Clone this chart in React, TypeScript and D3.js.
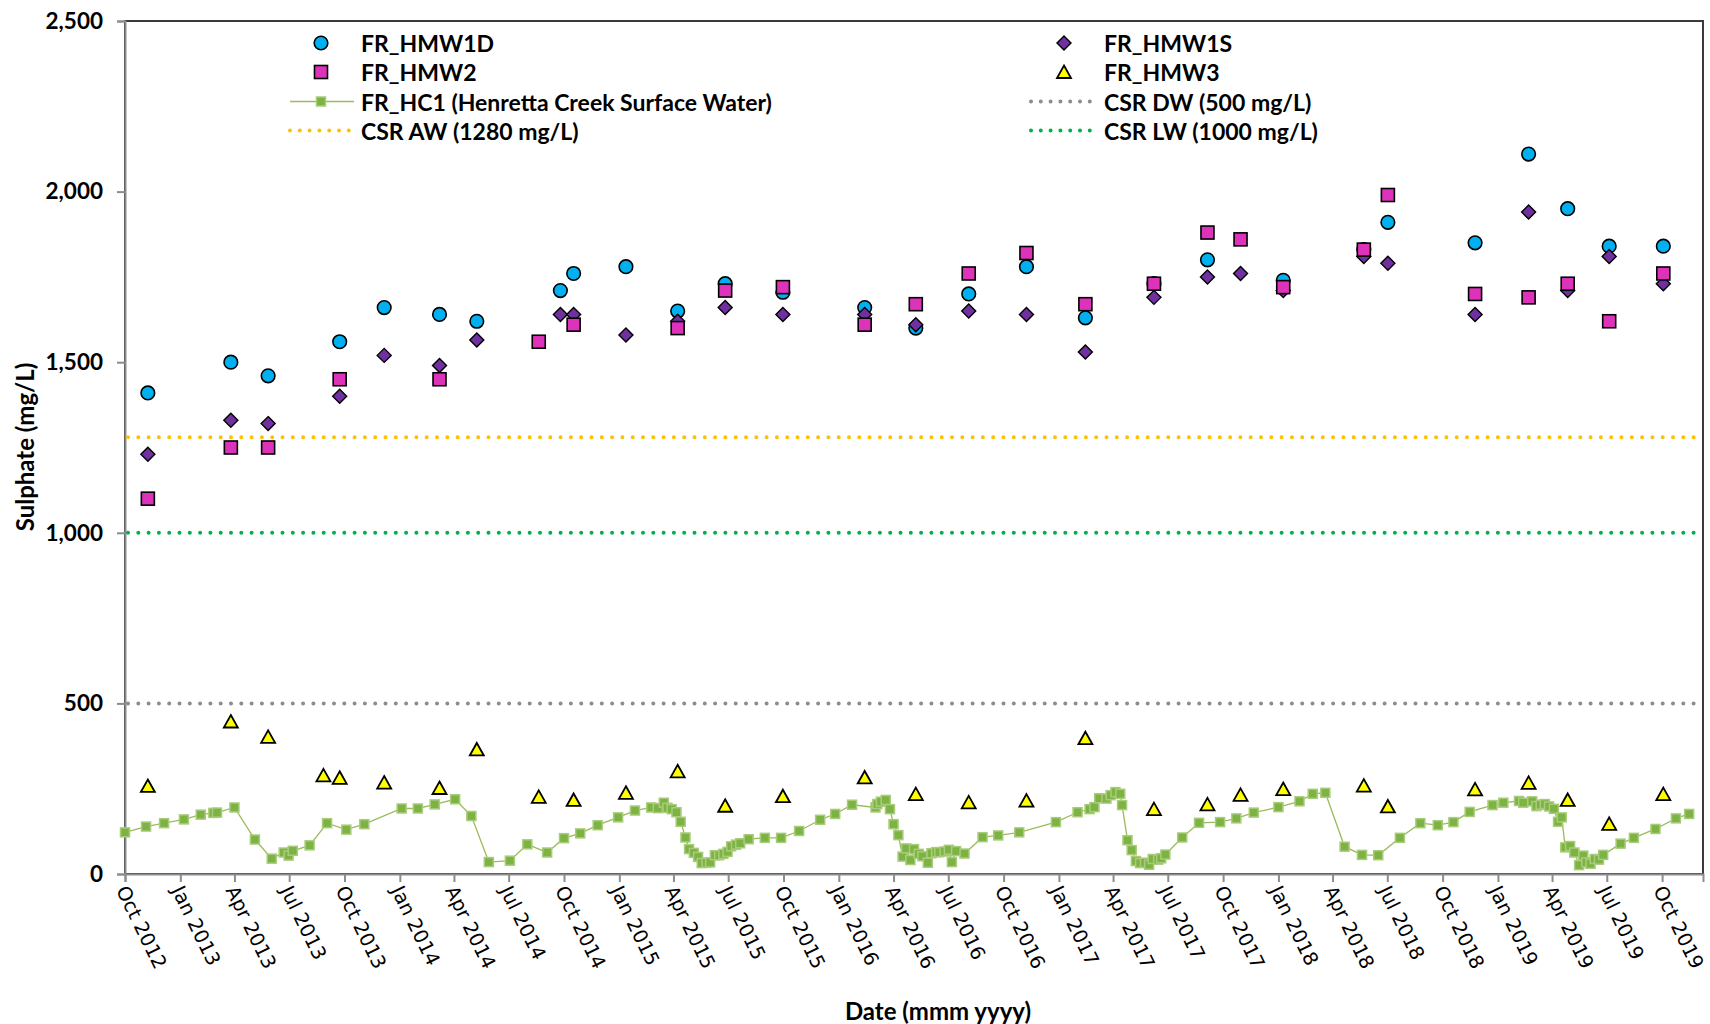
import React, { useEffect, useRef } from 'react';
import * as d3 from 'd3';

// sample dates shared by the monitoring wells
const wellDates = [
  '2012-11-08', '2013-03-26', '2013-05-27', '2013-08-27', '2013-09-23', '2013-12-06',
  '2014-03-08', '2014-05-09', '2014-08-20', '2014-09-25', '2014-10-17', '2015-01-12',
  '2015-04-08', '2015-06-26', '2015-09-30', '2016-02-13', '2016-05-08', '2016-08-04',
  '2016-11-08', '2017-02-14', '2017-06-08', '2017-09-05', '2017-10-30', '2018-01-09',
  '2018-05-23', '2018-07-02', '2018-11-24', '2019-02-21', '2019-04-27', '2019-07-05',
  '2019-10-03'
];

const hmw1d = [1410, 1500, 1460, null, 1560, 1660, 1640, 1620, null, 1710, 1760, 1780, 1650, 1730, 1705, 1660,
  1600, 1700, 1780, 1630, 1730, 1800, null, 1740, 1830, 1910, 1850, 2110, 1950, 1840, 1840];
const hmw1s = [1230, 1330, 1320, null, 1400, 1520, 1490, 1565, null, 1640, 1640, 1580, 1620, 1660, 1640, 1640,
  1610, 1650, 1640, 1530, 1690, 1750, 1760, 1710, 1810, 1790, 1640, 1940, 1710, 1810, 1730];
const hmw2 = [1100, 1250, 1250, null, 1450, null, 1450, null, 1560, null, 1610, null, 1600, 1710, 1720, 1610,
  1670, 1760, 1820, 1670, 1730, 1880, 1860, 1720, 1830, 1990, 1700, 1690, 1730, 1620, 1760];
const hmw3 = [258, 447, 402, 289, 282, 268, 252, 365, 226, null, 217, 238, 301, 200, 228, 283,
  234, 210, 215, 398, 190, 204, 232, 249, 259, 198, 248, 267, 217, 147, 234];

// Henretta Creek surface water
const hc1Dates = [
  '2012-10-01', '2012-11-05', '2012-12-05', '2013-01-07', '2013-02-04', '2013-02-25', '2013-03-03', '2013-04-01',
  '2013-05-05', '2013-06-02', '2013-06-22', '2013-06-30', '2013-07-07', '2013-08-04', '2013-09-02', '2013-10-04',
  '2013-11-03', '2014-01-04', '2014-01-31', '2014-02-28', '2014-04-03', '2014-04-30', '2014-05-29', '2014-07-03',
  '2014-08-01', '2014-09-03', '2014-10-01', '2014-10-28', '2014-11-26', '2014-12-30', '2015-01-27', '2015-02-23',
  '2015-03-06', '2015-03-16', '2015-03-22', '2015-03-29', '2015-04-06', '2015-04-13', '2015-04-21', '2015-04-27',
  '2015-05-05', '2015-05-12', '2015-05-18', '2015-05-26', '2015-06-01', '2015-06-09', '2015-06-16', '2015-06-23',
  '2015-06-30', '2015-07-06', '2015-07-14', '2015-07-21', '2015-08-04', '2015-08-31', '2015-09-27', '2015-10-27',
  '2015-12-01', '2015-12-26', '2016-01-23', '2016-03-02', '2016-03-05', '2016-03-11', '2016-03-19', '2016-03-26',
  '2016-04-01', '2016-04-09', '2016-04-16', '2016-04-22', '2016-04-29', '2016-05-05', '2016-05-13', '2016-05-19',
  '2016-05-28', '2016-06-03', '2016-06-11', '2016-06-16', '2016-06-25', '2016-07-02', '2016-07-07', '2016-07-14',
  '2016-07-28', '2016-08-27', '2016-09-22', '2016-10-27', '2016-12-27', '2017-02-01', '2017-02-21', '2017-03-01',
  '2017-03-09', '2017-03-21', '2017-03-28', '2017-04-05', '2017-04-13', '2017-04-16', '2017-04-25', '2017-05-02',
  '2017-05-09', '2017-05-16', '2017-05-24', '2017-05-31', '2017-06-06', '2017-06-15', '2017-06-20', '2017-06-27',
  '2017-07-25', '2017-08-22', '2017-09-26', '2017-10-23', '2017-11-21', '2018-01-01', '2018-02-05', '2018-02-27',
  '2018-03-20', '2018-04-21', '2018-05-20', '2018-06-16', '2018-07-22', '2018-08-25', '2018-09-23', '2018-10-19',
  '2018-11-15', '2018-12-23', '2019-01-10', '2019-02-05', '2019-02-12', '2019-02-27', '2019-03-06', '2019-03-13',
  '2019-03-20', '2019-03-27', '2019-04-04', '2019-04-11', '2019-04-17', '2019-04-23', '2019-05-01', '2019-05-08',
  '2019-05-16', '2019-05-23', '2019-05-28', '2019-06-04', '2019-06-11', '2019-06-18', '2019-06-25', '2019-07-24',
  '2019-08-15', '2019-09-20', '2019-10-24', '2019-11-15'
];
const hc1Values = [
  122, 139, 149, 160, 174, 179, 180, 195, 101, 45, 63, 54, 68, 84, 149, 130,
  146, 192, 192, 204, 219, 170, 35, 39, 87, 63, 105, 119, 143, 166, 186, 195,
  193, 209, 194, 190, 181, 153, 107, 73, 62, 50, 32, 33, 34, 55, 55, 59,
  65, 81, 86, 90, 102, 106, 106, 126, 159, 176, 203, 195, 205, 212, 217, 190,
  146, 114, 51, 75, 41, 73, 59, 52, 33, 61, 64, 64, 66, 71, 35, 67,
  60, 108, 113, 122, 152, 181, 190, 196, 222, 221, 231, 240, 235, 202, 99, 70,
  38, 32, 33, 27, 44, 42, 46, 57, 107, 150, 152, 163, 180, 196, 213, 235,
  238, 80, 56, 55, 106, 149, 143, 152, 182, 202, 209, 214, 209, 213, 199, 203,
  205, 198, 191, 153, 166, 78, 82, 63, 26, 54, 34, 30, 44, 42, 56, 89,
  106, 132, 163, 176
];

const guideNames = ['CSR DW (500 mg/L)', 'CSR AW (1280 mg/L)', 'CSR LW (1000 mg/L)'];
const guideValues = [500, 1280, 1000];
const guideColors = ['#8c8c8c', '#ffc000', '#00b050'];

const yTicks = [0, 500, 1000, 1500, 2000, 2500];

const W = 1710, H = 1024;
const plot = { left: 125, right: 1703, top: 21, bottom: 874 };
const font = 'Lato, "Open Sans", sans-serif';

export default function App() {
  const ref = useRef<SVGSVGElement>(null);

  useEffect(() => {
    const svg = d3.select(ref.current);
    svg.selectAll('*').remove();
    const parse = d3.timeParse('%Y-%m-%d');

    const xScale = d3.scaleTime()
      .domain([parse('2012-10-01') as Date, parse('2019-12-08') as Date])
      .range([plot.left, plot.right]);
    const yScale = d3.scaleLinear().domain([0, 2500]).range([plot.bottom, plot.top]);

    // plot frame
    svg.append('rect')
      .attr('x', plot.left).attr('y', plot.top)
      .attr('width', plot.right - plot.left).attr('height', plot.bottom - plot.top)
      .attr('fill', 'none').attr('stroke', '#3a3a3a').attr('stroke-width', 2);

    // y axis
    const yAxis = svg.append('g')
      .attr('transform', `translate(${plot.left},0)`)
      .call(d3.axisLeft(yScale).tickValues(yTicks).tickFormat(d3.format(',')).tickSize(8).tickPadding(14));
    yAxis.select('.domain').attr('stroke', '#8c8c8c').attr('stroke-width', 2);
    yAxis.selectAll('.tick line').attr('stroke', '#8c8c8c').attr('stroke-width', 2);
    yAxis.selectAll('.tick text')
      .attr('font-family', font).attr('font-weight', 700).attr('font-size', 22.5).attr('fill', '#000');

    // x axis
    const xTicks = xScale.ticks(d3.timeMonth.every(3) as d3.TimeInterval);
    const xAxis = svg.append('g')
      .attr('transform', `translate(0,${plot.bottom})`)
      .call(d3.axisBottom(xScale).tickValues(xTicks).tickSize(8).tickFormat(() => ''));
    xAxis.select('.domain').attr('stroke', '#8c8c8c').attr('stroke-width', 2);
    xAxis.selectAll('.tick line').attr('stroke', '#8c8c8c').attr('stroke-width', 2);
    const fmt = d3.timeFormat('%b %Y');
    svg.append('g').selectAll('text')
      .data(xTicks)
      .enter()
      .append('text')
        .attr('transform', d => `translate(${xScale(d) - 3},${plot.bottom + 13}) rotate(64)`)
        .attr('dy', '0.35em')
        .attr('font-family', '"DejaVu Sans", sans-serif')
        .attr('font-size', 19.5)
        .text(d => fmt(d));

    // axis titles
    svg.append('text')
      .attr('x', 938).attr('y', 1010)
      .attr('text-anchor', 'middle').attr('dominant-baseline', 'central')
      .attr('font-family', font).attr('font-weight', 700).attr('font-size', 24)
      .text('Date (mmm yyyy)');
    svg.append('text')
      .attr('transform', 'translate(24,447) rotate(-90)')
      .attr('text-anchor', 'middle').attr('dominant-baseline', 'central')
      .attr('font-family', font).attr('font-weight', 700).attr('font-size', 24)
      .text('Sulphate (mg/L)');

    const wells = wellDates.map(d => parse(d) as Date);
    const pts = (vals: (number | null)[]) =>
      vals.map((v, i) => ({ date: wells[i], v })).filter(p => p.v !== null) as { date: Date; v: number }[];

    // marker shapes
    const circle = (g: any, x: number, y: number) =>
      g.append('circle').attr('cx', x).attr('cy', y).attr('r', 6.8)
        .attr('fill', '#00b0f0').attr('stroke', '#000').attr('stroke-width', 1.6);
    const diamond = (g: any, x: number, y: number) =>
      g.append('path').attr('d', `M${x},${y - 7}L${x + 7},${y}L${x},${y + 7}L${x - 7},${y}Z`)
        .attr('fill', '#7030a0').attr('stroke', '#000').attr('stroke-width', 1.4);
    const square = (g: any, x: number, y: number) =>
      g.append('rect').attr('x', x - 6.5).attr('y', y - 6.5).attr('width', 13).attr('height', 13)
        .attr('fill', '#dd33bb').attr('stroke', '#000').attr('stroke-width', 1.6);
    const triangle = (g: any, x: number, y: number) =>
      g.append('path').attr('d', `M${x},${y - 6.5}L${x + 7},${y + 6}L${x - 7},${y + 6}Z`)
        .attr('fill', '#ffff00').attr('stroke', '#000').attr('stroke-width', 1.8)
        .attr('stroke-linejoin', 'miter');
    const greenSq = (g: any, x: number, y: number) =>
      g.append('rect').attr('x', x - 4.5).attr('y', y - 4.5).attr('width', 9).attr('height', 9)
        .attr('fill', '#7db343').attr('stroke', '#a9cc7c').attr('stroke-width', 1.5);

    const marks = svg.append('g');
    pts(hmw1d).forEach(p => circle(marks, xScale(p.date), yScale(p.v)));
    pts(hmw1s).forEach(p => diamond(marks, xScale(p.date), yScale(p.v)));
    pts(hmw2).forEach(p => square(marks, xScale(p.date), yScale(p.v)));
    pts(hmw3).forEach(p => triangle(marks, xScale(p.date), yScale(p.v)));

    // creek line
    const hc1 = hc1Dates.map((d, i) => ({ date: parse(d) as Date, v: hc1Values[i] }));
    const lineFunc = d3.line<{ date: Date; v: number }>()
      .x(d => xScale(d.date))
      .y(d => yScale(d.v));
    marks.append('path')
      .attr('d', lineFunc(hc1))
      .attr('fill', 'none').attr('stroke', '#9bbb59').attr('stroke-width', 1.3);
    hc1.forEach(p => greenSq(marks, xScale(p.date), yScale(p.v)));

    // guideline values
    guideValues.forEach((v, i) => {
      svg.append('line')
        .attr('x1', plot.left + 3).attr('x2', plot.right - 2)
        .attr('y1', yScale(v)).attr('y2', yScale(v))
        .attr('stroke', guideColors[i]).attr('stroke-width', 4)
        .attr('stroke-linecap', 'round').attr('stroke-dasharray', '0 10.3');
    });

    // legend
    const leg = svg.append('g')
      .attr('font-family', font).attr('font-weight', 700).attr('font-size', 23);
    const rows = [43, 72, 101.5, 130.5];
    const col1 = 321, col2 = 1064;
    const label = (x: number, y: number, t: string) =>
      leg.append('text').attr('x', x).attr('y', y).attr('dominant-baseline', 'central').text(t);
    const dots = (x1: number, x2: number, y: number, c: string) =>
      leg.append('line').attr('x1', x1).attr('x2', x2).attr('y1', y).attr('y2', y)
        .attr('stroke', c).attr('stroke-width', 4)
        .attr('stroke-linecap', 'round').attr('stroke-dasharray', '0 9.8');

    circle(leg, col1, rows[0]);
    label(col1 + 40, rows[0], 'FR_HMW1D');
    diamond(leg, col2, rows[0]);
    label(col2 + 40, rows[0], 'FR_HMW1S');
    square(leg, col1, rows[1]);
    label(col1 + 40, rows[1], 'FR_HMW2');
    triangle(leg, col2, rows[1]);
    label(col2 + 40, rows[1], 'FR_HMW3');
    leg.append('line').attr('x1', 290).attr('x2', 354).attr('y1', rows[2]).attr('y2', rows[2])
      .attr('stroke', '#9bbb59').attr('stroke-width', 1.3);
    greenSq(leg, col1, rows[2]);
    label(col1 + 40, rows[2], 'FR_HC1 (Henretta Creek Surface Water)');
    dots(1031, 1094, rows[2], guideColors[0]);
    label(col2 + 40, rows[2], guideNames[0]);
    dots(290, 352, rows[3], guideColors[1]);
    label(col1 + 40, rows[3], guideNames[1]);
    dots(1031, 1094, rows[3], guideColors[2]);
    label(col2 + 40, rows[3], guideNames[2]);
  }, []);

  return (
    <svg ref={ref} width={W} height={H}
      style={{ position: 'absolute', left: 0, top: 0, background: '#fff' }} />
  );
}
